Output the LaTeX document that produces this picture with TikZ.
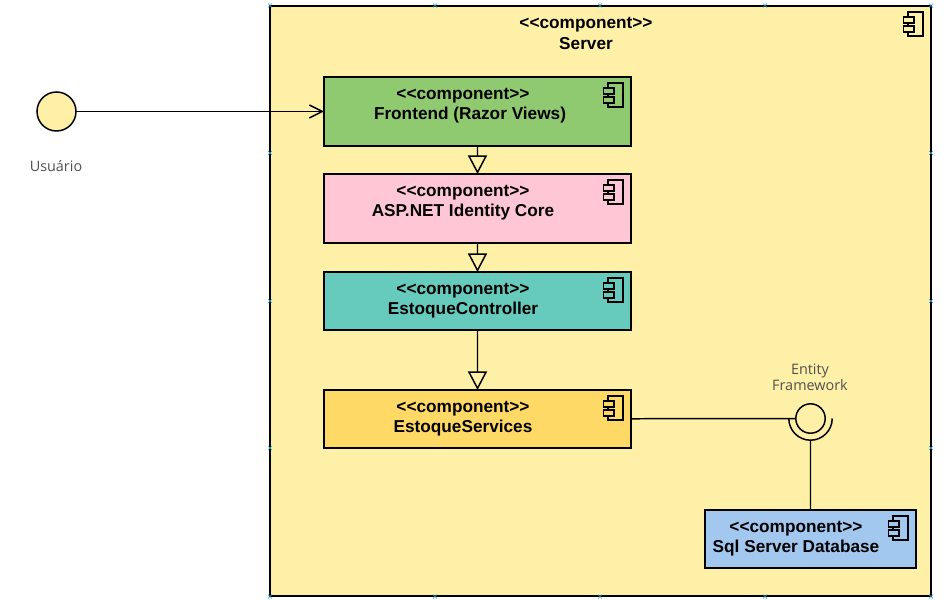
\documentclass[tikz,border=0pt]{standalone}
\usepackage{fontspec}
\setmainfont{Liberation Sans}
\newfontfamily\labelfont{Open Sans}
\usetikzlibrary{arrows.meta}
\definecolor{serverfill}{HTML}{FFF0A8}
\definecolor{frontfill}{HTML}{8FCA70}
\definecolor{identityfill}{HTML}{FFC7D6}
\definecolor{controlfill}{HTML}{66CABD}
\definecolor{servicefill}{HTML}{FFD966}
\definecolor{dbfill}{HTML}{A3C8F0}
\definecolor{labelgray}{HTML}{505050}
\definecolor{markblue}{HTML}{2A9FD8}
\tikzset{
  compbox/.style={draw=black,line width=0.9pt,rectangle,outer sep=0pt},
  comptext/.style={font=\fontsize{9.8}{11.5}\selectfont\bfseries,align=center,text=black},
  freetext/.style={font=\labelfont\fontsize{8.2}{9.4}\selectfont,align=center,text=labelgray},
  hollow/.style={-{Triangle[length=0.37cm,width=0.38cm,fill=serverfill]}},
  openhead/.style={-{Straight Barb[length=0.26cm,width=0.26cm]}},
  wire/.style={line width=0.85pt}
}
\newcommand{\compicon}[2]{
  \begin{scope}[shift={(#1.north east)},line width=0.75pt]
    \draw (-2.3,-0.6) rectangle (-0.8,-3);
    \draw [fill=#2] (-2.75,-1.1) rectangle (-1.7,-1.7);
    \draw [fill=#2] (-2.75,-2) rectangle (-1.7,-2.6);
  \end{scope}
}
\begin{document}
\begin{tikzpicture}[scale=0.2]
        \tikzstyle{every node}+=[inner sep=0pt]
        \useasboundingbox (0,0) rectangle (94.7,-60);
        % boxes
        \node [compbox,fill=serverfill,minimum width=13.22cm,minimum height=11.8cm] (server) at (60.05,-30.1) {};
        \node [compbox,fill=frontfill,minimum width=6.14cm,minimum height=1.38cm] (frontend) at (47.75,-11.15) {};
        \node [compbox,fill=identityfill,minimum width=6.14cm,minimum height=1.38cm] (identity) at (47.75,-20.85) {};
        \node [compbox,fill=controlfill,minimum width=6.14cm,minimum height=1.16cm] (controller) at (47.75,-30.1) {};
        \node [compbox,fill=servicefill,minimum width=6.14cm,minimum height=1.16cm] (services) at (47.75,-41.9) {};
        \node [compbox,fill=dbfill,minimum width=4.22cm,minimum height=1.16cm] (database) at (81.05,-53.9) {};
        % icons
        \compicon{server}{serverfill}
        \compicon{frontend}{frontfill}
        \compicon{identity}{identityfill}
        \compicon{controller}{controlfill}
        \compicon{services}{servicefill}
        \compicon{database}{dbfill}
        % texts
        \node [comptext] (servertext) at (58.6,-3.35) {<{}<component>{}>\\Server};
        \node [comptext] (frontstereo) at (46.3,-9.55) {<{}<component>{}>};
        \node [comptext] (frontname) at (47,-11.55) {Frontend (Razor Views)};
        \node [comptext] (identitytext) at (46.3,-20.3) {<{}<component>{}>\\ASP.NET Identity Core};
        \node [comptext] (controllertext) at (46.3,-30.05) {<{}<component>{}>\\EstoqueController};
        \node [comptext] (servicestext) at (46.3,-41.9) {<{}<component>{}>\\EstoqueServices};
        \node [comptext] (databasetext) at (79.6,-53.85) {<{}<component>{}>\\Sql Server Database};
        % actor and interface
        \node [draw=black,line width=0.85pt,circle,fill=serverfill,minimum size=0.78cm,outer sep=0pt] (usuario) at (5.65,-11.15) {};
        \node [freetext] (usuariotext) at (5.6,-16.6) {Usuário};
        \node [circle,minimum size=0.868cm,outer sep=0pt] (socket) at (81.05,-41.85) {};
        \draw [wire] (socket.east) arc [start angle=0,end angle=-180,radius=2.17];
        \node [draw=black,line width=0.85pt,circle,minimum size=0.588cm,outer sep=0pt] (ball) at (81.05,-41.85) {};
        \node [freetext] (balltext) at (81,-37.75) {Entity\\Framework};
        % connectors
        \draw [wire,openhead] (usuario) -- (frontend);
        \draw [wire,hollow] (frontend) -- (identity);
        \draw [wire,hollow] (identity) -- (controller);
        \draw [wire,hollow] (controller) -- (services);
        \draw [wire] (services) -- (ball);
        \draw [wire] (database) -- (socket);
        % handles on the server box
        \foreach \hx in {27,43.5,60,76.5,93.1}
          \foreach \hy in {-0.55,-59.65} {
            \draw [markblue,line width=0.3pt] (\hx-0.2,\hy-0.2) -- (\hx+0.2,\hy+0.2);
            \draw [markblue,line width=0.3pt] (\hx-0.2,\hy+0.2) -- (\hx+0.2,\hy-0.2);
          }
        \foreach \hx in {27,93.1}
          \foreach \hy in {-15.3,-30.1,-44.8} {
            \draw [markblue,line width=0.3pt] (\hx-0.2,\hy-0.2) -- (\hx+0.2,\hy+0.2);
            \draw [markblue,line width=0.3pt] (\hx-0.2,\hy+0.2) -- (\hx+0.2,\hy-0.2);
          }
\end{tikzpicture}
\end{document}
